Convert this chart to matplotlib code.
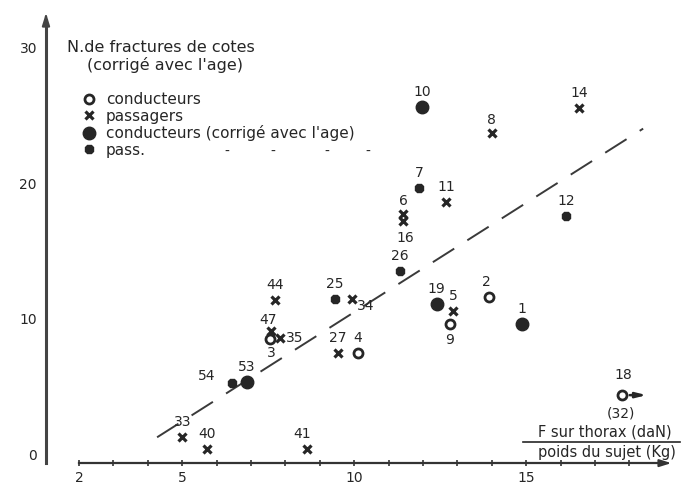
import matplotlib
matplotlib.use("Agg")
import matplotlib.pyplot as plt
from matplotlib.lines import Line2D

# --- data ---
# conducteurs (open circles)
cond_ids = ["2", "3", "4", "9", "18"]
cond_x = [13.92, 7.55, 10.1, 12.78, 17.78]
cond_y = [11.6, 8.5, 7.5, 9.6, 4.4]

# passagers (crosses)
pass_ids = ["14", "8", "11", "6", "16", "5", "44", "34", "47", "35", "27", "33", "40", "41"]
pass_x = [16.53, 14.0, 12.67, 11.42, 11.42, 12.87, 7.70, 9.94, 7.58, 7.84, 9.53, 5.0, 5.72, 8.63]
pass_y = [25.5, 23.7, 18.6, 17.7, 17.2, 10.6, 11.4, 11.5, 9.1, 8.6, 7.5, 1.3, 0.45, 0.45]

# conducteurs corrigé avec l'age (big filled dots)
condc_ids = ["10", "19", "1", "53"]
condc_x = [11.97, 12.4, 14.88, 6.88]
condc_y = [25.6, 11.1, 9.6, 5.4]

# passagers corrigé (small filled dots)
passc_ids = ["7", "12", "26", "25", "54"]
passc_x = [11.88, 16.16, 11.33, 9.44, 6.45]
passc_y = [19.6, 17.6, 13.5, 11.5, 5.3]

# dashed trend line
fit_x = [4.27, 18.4]
fit_y = [1.3, 24.0]

x_ticks = list(range(2, 19))
x_ticklabels = {2: "2", 5: "5", 10: "10", 15: "15"}
y_ticks = [0, 10, 20, 30]

# label offsets in pixels (dx, dy), default is straight above
label_off = {
    "16": (2, -17), "9": (0, -16), "34": (14, -7), "3": (1, -14),
    "35": (15, 0), "54": (-25, 7), "47": (-3, 11), "2": (-3, 15),
    "41": (-5, 15), "18": (1, 20), "8": (0, 13), "6": (0, 13),
}

W, H = 681, 488
ink = "#262626"


def fpos(px, py):
    # pixel position in the picture -> figure fraction
    return px / W, 1 - py / H


fig = plt.figure(figsize=(W / 100, H / 100), dpi=100)
ax = fig.add_axes([0, 0, 1, 1])
ax.set_xlim(-0.297, 19.5)
ax.set_ylim(-2.43, 33.46)

# axes drawn as spines crossing near the origin
for s in ["top", "right"]:
    ax.spines[s].set_visible(False)
ax.spines["bottom"].set_position(("data", -0.6))
ax.spines["bottom"].set_bounds(2, 19.0)
ax.spines["bottom"].set_linewidth(1.6)
ax.spines["bottom"].set_color("#333333")
ax.spines["left"].set_position(("data", 1.04))
ax.spines["left"].set_bounds(-0.6, 32.0)
ax.spines["left"].set_linewidth(2.2)
ax.spines["left"].set_color("#444444")

ax.set_xticks(x_ticks)
ax.set_xticklabels([x_ticklabels.get(t, "") for t in x_ticks])
ax.set_yticks(y_ticks)
ax.tick_params(axis="x", direction="inout", length=5, width=1.2, color="#333333",
               pad=3.5, labelsize=10, labelcolor=ink)
ax.tick_params(axis="y", length=0, pad=6.5, labelsize=10, labelcolor=ink)

arrow_style = "-|>,head_length=0.7,head_width=0.22"
ax.annotate("", xy=(19.3, -0.6), xytext=(18.9, -0.6),
            arrowprops=dict(arrowstyle=arrow_style, color="#333333", lw=1.4))
ax.annotate("", xy=(1.04, 32.7), xytext=(1.04, 31.8),
            arrowprops=dict(arrowstyle=arrow_style, color="#444444", lw=1.6))

# trend line
ax.plot(fit_x, fit_y, color="#3a3a3a", lw=1.4, ls=(0, (13, 8)), zorder=2)

# points
ax.plot(cond_x, cond_y, ls="none", marker="o", ms=6.5, mfc="white", mec=ink, mew=2.0, zorder=3)
ax.plot(pass_x, pass_y, ls="none", marker="x", ms=6, mec=ink, mew=2.3, zorder=3)
ax.plot(condc_x, condc_y, ls="none", marker="o", ms=9, mfc=ink, mec=ink, zorder=3)
ax.plot(passc_x, passc_y, ls="none", marker="8", ms=6.5, mfc=ink, mec=ink, zorder=3)

for ids, xs, ys in [(cond_ids, cond_x, cond_y), (pass_ids, pass_x, pass_y),
                    (condc_ids, condc_x, condc_y), (passc_ids, passc_x, passc_y)]:
    for name, x, y in zip(ids, xs, ys):
        dx, dy = label_off.get(name, (0, 15))
        ax.annotate(name, (x, y), xytext=(dx, dy), textcoords="offset pixels",
                    ha="center", va="center", fontsize=10, color=ink)

# point 18 is off scale: arrow + real value
i18 = cond_ids.index("18")
ax.annotate("", xy=(cond_x[i18] + 0.8, cond_y[i18]), xytext=(cond_x[i18] + 0.15, cond_y[i18]),
            arrowprops=dict(arrowstyle="-|>,head_length=0.6,head_width=0.15",
                            color=ink, lw=1.8))
ax.annotate("(32)", (cond_x[i18], cond_y[i18]), xytext=(-1, -18), textcoords="offset pixels",
            ha="center", va="center", fontsize=10, color=ink)

# heading (y quantity) and legend
fig.text(*fpos(67, 47), "N.de fractures de cotes", ha="left", va="center", fontsize=11.5, color=ink)
fig.text(*fpos(87, 65), "(corrigé avec l'age)", ha="left", va="center", fontsize=11.5, color=ink)

handles = [
    Line2D([], [], ls="none", marker="o", ms=6.5, mfc="white", mec=ink, mew=2.0),
    Line2D([], [], ls="none", marker="x", ms=6, mec=ink, mew=2.3),
    Line2D([], [], ls="none", marker="o", ms=9, mfc=ink, mec=ink),
    Line2D([], [], ls="none", marker="8", ms=6.5, mfc=ink, mec=ink),
]
names = ["conducteurs", "passagers", "conducteurs (corrigé avec l'age)", "pass."]
ax.legend(handles, names, loc="upper left", bbox_to_anchor=fpos(83, 92),
          bbox_transform=fig.transFigure, frameon=False, fontsize=11,
          handlelength=0.75, handletextpad=0.75, labelspacing=0.1,
          borderpad=0, borderaxespad=0, labelcolor=ink)
for px in [227, 273, 327, 368]:
    fig.text(*fpos(px, 152), "-", ha="center", va="center", fontsize=10, color=ink)

# x quantity written as a fraction
fig.text(*fpos(605, 432), "F sur thorax (daN)", ha="center", va="center", fontsize=10.5, color=ink)
fig.add_artist(Line2D([523 / W, 680 / W], [1 - 442 / H, 1 - 442 / H],
                      transform=fig.transFigure, color=ink, lw=1.2))
fig.text(*fpos(607, 453), "poids du sujet (Kg)", ha="center", va="center", fontsize=10.5, color=ink)

fig.savefig("out.png", dpi=100)
